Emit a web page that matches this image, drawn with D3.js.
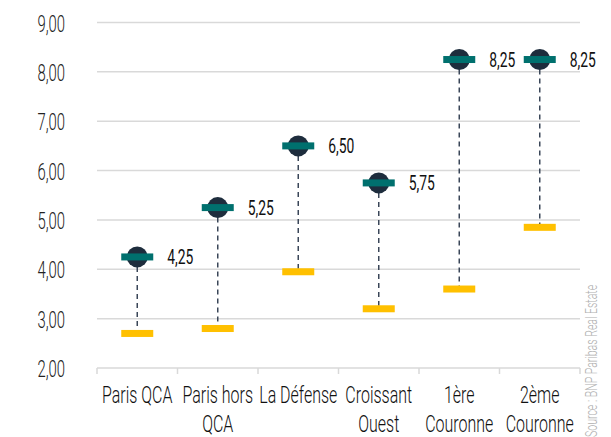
<!DOCTYPE html>
<html>
<head>
<meta charset="utf-8">
<script src="https://cdn.jsdelivr.net/npm/d3@7"></script>
<style>
  body { margin: 0; background: #fff; }
  text { font-family: Roboto, "Noto Sans", sans-serif; }
</style>
</head>
<body>
<div id="vis-tag"></div>
<script>
// données
const categories = ["Paris QCA", "Paris hors QCA", "La Défense", "Croissant Ouest", "1ère Couronne", "2ème Couronne"];
const catLines = [["Paris QCA"], ["Paris hors", "QCA"], ["La Défense"], ["Croissant", "Ouest"], ["1ère", "Couronne"], ["2ème", "Couronne"]];
const highValues = [4.25, 5.25, 6.50, 5.75, 8.25, 8.25];
const lowValues = [2.70, 2.80, 3.95, 3.20, 3.60, 4.85];
const yTicks = [2, 3, 4, 5, 6, 7, 8, 9];
const sourceText = "Source : BNP Paribas Real Estate";

const width = 611, height = 437;
const margin = { top: 22.5, right: 31, bottom: 69, left: 97 };
const SX = 0.62; // police condensée

const svg = d3.select("#vis-tag").append("svg")
  .attr("width", width).attr("height", height);

const x = d3.scaleBand()
  .domain(categories)
  .range([margin.left, width - margin.right]);

const y = d3.scaleLinear()
  .domain([2, 9])
  .range([height - margin.bottom, margin.top]);

const fmt = v => d3.format(".2f")(v).replace(".", ",");

// grille
svg.append("g").selectAll("line")
  .data(yTicks.filter(d => d > 2))
  .enter().append("line")
  .attr("x1", margin.left).attr("x2", width - margin.right)
  .attr("y1", d => y(d)).attr("y2", d => y(d))
  .attr("stroke", "#d9d9d9").attr("stroke-width", 1.5);

// axe X
svg.append("line")
  .attr("x1", margin.left).attr("x2", width - margin.right)
  .attr("y1", y(2)).attr("y2", y(2))
  .attr("stroke", "#d9d9d9").attr("stroke-width", 1.5);
const bounds = categories.map(c => x(c)).concat([x(categories[categories.length - 1]) + x.bandwidth()]);
svg.append("g").selectAll("line")
  .data(bounds).enter().append("line")
  .attr("x1", d => d).attr("x2", d => d)
  .attr("y1", y(2)).attr("y2", y(2) + 6)
  .attr("stroke", "#d9d9d9").attr("stroke-width", 1.5);

// labels Y
svg.append("g").selectAll("g")
  .data(yTicks).enter().append("g")
  .attr("transform", d => `translate(65,${y(d) + 9}) scale(${SX},1)`)
  .append("text")
  .attr("text-anchor", "end")
  .attr("font-size", 24)
  .attr("font-weight", 300)
  .attr("fill", "#222")
  .text(d => fmt(d));

// labels X
const xl = svg.append("g").selectAll("g")
  .data(categories).enter().append("g");
xl.each(function (c, i) {
  catLines[i].forEach((line, j) => {
    d3.select(this).append("g")
      .attr("transform", `translate(${x(c) + x.bandwidth() / 2},${403 + j * 29}) scale(0.68,1)`)
      .append("text")
      .attr("text-anchor", "middle")
      .attr("font-size", 23.5)
      .attr("font-weight", 300)
      .attr("fill", "#111")
      .text(line);
  });
});

const cx = c => x(c) + x.bandwidth() / 2;

// lignes pointillées
svg.append("g").selectAll("line")
  .data(categories).enter().append("line")
  .attr("x1", cx).attr("x2", cx)
  .attr("y1", (c, i) => y(highValues[i]) + 10)
  .attr("y2", (c, i) => y(lowValues[i]) - 3)
  .attr("stroke", "#3a4658").attr("stroke-width", 1.5)
  .attr("stroke-dasharray", "5,4");

// barres basses (jaune)
svg.append("g").selectAll("rect")
  .data(categories).enter().append("rect")
  .attr("x", c => cx(c) - 16).attr("width", 32)
  .attr("y", (c, i) => y(lowValues[i]) - 3.5).attr("height", 7)
  .attr("fill", "#ffc000");

// cercles
svg.append("g").selectAll("circle")
  .data(categories).enter().append("circle")
  .attr("cx", cx).attr("cy", (c, i) => y(highValues[i]))
  .attr("r", 10.5)
  .attr("fill", "#1e2d3d");

// barres hautes (vert)
svg.append("g").selectAll("rect")
  .data(categories).enter().append("rect")
  .attr("x", c => cx(c) - 16).attr("width", 32)
  .attr("y", (c, i) => y(highValues[i]) - 3.5).attr("height", 7)
  .attr("fill", "#00706e");

// valeurs
svg.append("g").selectAll("g")
  .data(categories).enter().append("g")
  .attr("transform", (c, i) => `translate(${cx(c) + 30},${y(highValues[i]) + 7.5}) scale(0.66,1)`)
  .append("text")
  .attr("font-size", 21)
  .attr("font-weight", 400)
  .attr("fill", "#111")
  .text((c, i) => fmt(highValues[i]));

// source
svg.append("g")
  .attr("transform", `translate(597,437) rotate(-90) scale(0.66,1)`)
  .append("text")
  .attr("font-size", 16)
  .attr("font-weight", 300)
  .attr("fill", "#b0b0b0")
  .text(sourceText);
</script>
</body>
</html>
